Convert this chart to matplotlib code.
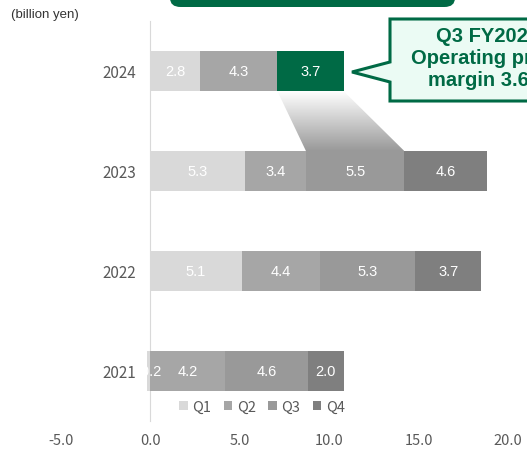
import numpy as np
import matplotlib
matplotlib.use("Agg")
import matplotlib.pyplot as plt
from matplotlib.patches import Polygon, FancyBboxPatch, Rectangle
from matplotlib.colors import LinearSegmentedColormap

# Quarterly operating profit (billion yen)
years = ["2021", "2022", "2023", "2024"]
q1 = [-0.2, 5.1, 5.3, 2.8]
q2 = [4.2, 4.4, 3.4, 4.3]
q3 = [4.6, 5.3, 5.5, 3.7]
q4 = [2.0, 3.7, 4.6, None]
quarters = ["Q1", "Q2", "Q3", "Q4"]
xticks = [-5.0, 0.0, 5.0, 10.0, 15.0, 20.0]
callout_lines = ["Q3 FY2024", "Operating profit", "margin 3.6%"]

colors = ["#d9d9d9", "#a6a6a6", "#999999", "#7f7f7f"]
green = "#006a45"
tick_color = "#595959"

W, H = 527, 452
fig = plt.figure(figsize=(W / 100, H / 100), dpi=100)
ax = fig.add_axes([61 / W, 30 / H, 447 / W, 400 / H])

series = [q1, q2, q3, q4]
y = np.arange(len(years))
bar_h = 0.4
pos_base = np.zeros(len(years))
neg_base = np.zeros(len(years))
segments = {}  # (quarter index, year index) -> (left, right)
for qi, vals in enumerate(series):
    for yi, v in enumerate(vals):
        if v is None:
            continue
        if v >= 0:
            left = pos_base[yi]
            pos_base[yi] += v
        else:
            left = neg_base[yi]
            neg_base[yi] += v
        c = colors[qi]
        if years[yi] == "2024" and qi == 2:
            c = green
        ax.barh(y[yi], v, left=left, height=bar_h, color=c, edgecolor="none", zorder=3)
        segments[(qi, yi)] = (min(left, left + v), max(left, left + v))
        ax.text(left + v / 2, y[yi], f"{v:.1f}", ha="center", va="center",
                color="white", fontsize=10.5, family="Liberation Sans", zorder=5)

# Shaded connector from the 2024 Q3 segment down to the 2023 Q3 segment
a0, a1 = segments[(2, 3)]
b0, b1 = segments[(2, 2)]
top_y = y[3] - bar_h / 2
bot_y = y[2] + bar_h / 2
poly = Polygon([(a0, top_y), (a1, top_y), (b1, bot_y), (b0, bot_y)],
               closed=True, facecolor="none", edgecolor="none")
ax.add_patch(poly)
grad = np.linspace(0, 1, 256).reshape(-1, 1)
cmap = LinearSegmentedColormap.from_list("fade", ["#999999", "#ffffff"])
im = ax.imshow(grad, cmap=cmap, aspect="auto", origin="lower",
               extent=[min(a0, b0), max(a1, b1), bot_y, top_y], zorder=2)
im.set_clip_path(poly)

ax.set_xlim(-5, 20)
ax.set_ylim(-0.5, 3.5)
ax.set_xticks(xticks)
ax.set_xticklabels([f"{t:.1f}" for t in xticks])
ax.set_yticks(y)
ax.set_yticklabels(years)
for s in ["top", "right", "bottom"]:
    ax.spines[s].set_visible(False)
ax.spines["left"].set_position(("data", 0))
ax.spines["left"].set_color("#d9d9d9")
ax.spines["left"].set_zorder(1)
ax.tick_params(axis="both", length=0, colors=tick_color, labelsize=11)
ax.tick_params(axis="x", pad=9, labelsize=10.5)
ax.tick_params(axis="y", pad=10.5)
for lab in ax.get_xticklabels() + ax.get_yticklabels():
    lab.set_family("Noto Sans CJK JP")

handles = [Rectangle((0, 0), 1, 1, facecolor=c, edgecolor="none") for c in colors]
leg = fig.legend(handles, quarters, ncol=4, frameon=False,
                 loc="center", bbox_to_anchor=(262 / W, 1 - 408 / H),
                 handlelength=0.6, handleheight=0.6, handletextpad=0.3,
                 columnspacing=0.85, prop={"family": "Noto Sans CJK JP", "size": 10.5})
for t in leg.get_texts():
    t.set_color(tick_color)

fig.text(11 / W, 1 - 15 / H, "(billion yen)", fontsize=9.5, family="Liberation Sans",
         color="#333333", va="center", ha="left")


def fx(px):
    return px / W


def fy(py):
    return 1 - py / H


# Title banner peeking in at the top
fig.patches.append(FancyBboxPatch((fx(170), fy(8)), fx(455) - fx(170), 40 / H,
                                  boxstyle="round,pad=0,rounding_size=0.02",
                                  transform=fig.transFigure, facecolor=green,
                                  edgecolor="none"))

# Callout box with pointer
pts = [(390, 20), (580, 20), (580, 102), (390, 102), (390, 83), (352, 73), (390, 63)]
fig.patches.append(Polygon([(fx(px), fy(py)) for px, py in pts], closed=True,
                           transform=fig.transFigure, facecolor="#ebfbf4",
                           edgecolor=green, linewidth=2.2, joinstyle="miter"))
fig.text(fx(487), fy(58), "\n".join(callout_lines), ha="center", va="center",
         fontsize=14.5, fontweight="bold", color=green, family="Liberation Sans",
         linespacing=1.2)

fig.savefig("out.png", dpi=100)
